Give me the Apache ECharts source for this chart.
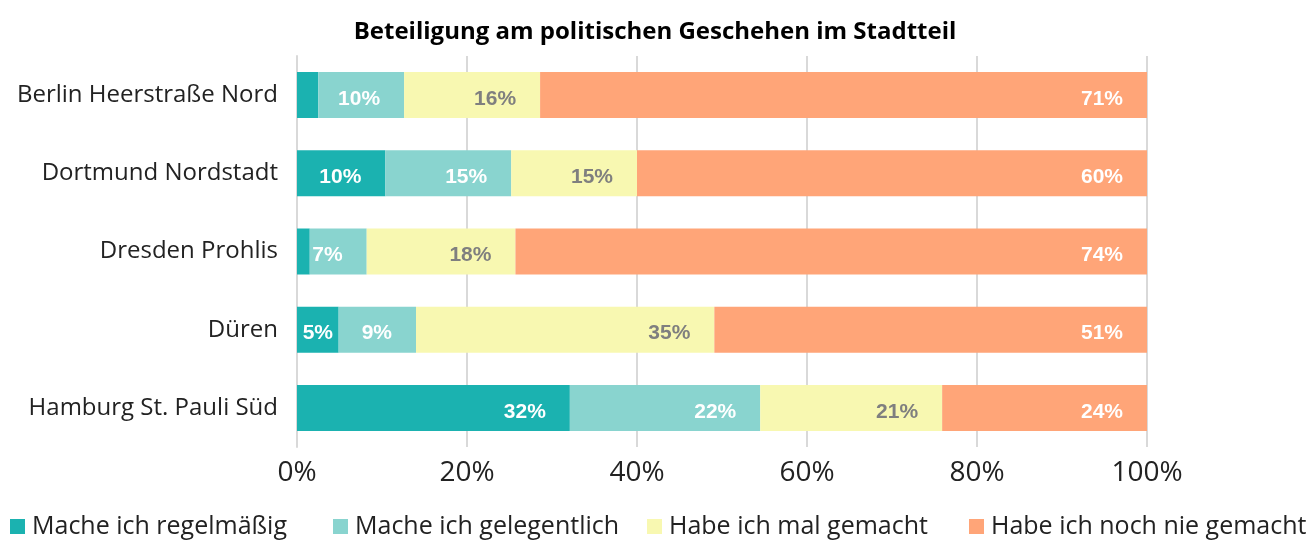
<!DOCTYPE html>
<html>
<head>
<meta charset="utf-8">
<script src="https://cdn.jsdelivr.net/npm/echarts@6/dist/echarts.min.js"></script>
<style>
    html, body { margin: 0; padding: 0; background: #fff; }
    #chart { width: 1310px; height: 540px; }
</style>
</head>
<body>
<div id="chart"></div>
<script>
    // Stadtteile (top to bottom)
    var districts = ['Berlin Heerstraße Nord', 'Dortmund Nordstadt', 'Dresden Prohlis', 'Düren', 'Hamburg St. Pauli Süd'];
    var seriesNames = ['Mache ich regelmäßig', 'Mache ich gelegentlich', 'Habe ich mal gemacht', 'Habe ich noch nie gemacht'];
    var regelmaessig = [2.5, 10.4, 1.5, 4.9, 32.1];
    var gelegentlich = [10.1, 14.8, 6.7, 9.1, 22.4];
    var malGemacht = [16.0, 14.8, 17.5, 35.1, 21.4];
    var nieGemacht = [71.4, 60.0, 74.3, 50.9, 24.1];
    var xTicks = [0, 20, 40, 60, 80, 100];

    var colors = ['#1bb2b0', '#89d4cf', '#f8f8b1', '#ffa578'];
    var labelColors = ['#ffffff', '#ffffff', '#7f7f7f', '#ffffff'];
    var values = [regelmaessig, gelegentlich, malGemacht, nieGemacht];
    var legendLeft = [10, 333, 647, 969];

    var uiFont = '"Open Sans", "Noto Sans", sans-serif';

    var chart = echarts.init(document.getElementById('chart'));

    var series = seriesNames.map(function (name, i) {
        return {
            name: name,
            type: 'bar',
            stack: 'total',
            barWidth: 46,
            itemStyle: { color: colors[i] },
            label: {
                show: true,
                position: 'insideRight',
                distance: 24,
                offset: [0, 4],
                color: labelColors[i],
                fontFamily: '"Liberation Sans", Arial, sans-serif',
                fontWeight: 'bold',
                fontSize: 21,
                formatter: function (p) {
                    return p.value < 3 ? '' : Math.round(p.value) + '%';
                }
            },
            data: values[i].slice().reverse().map(function (v) {
                // very narrow segments: label centred in the bar
                return v < 6 ? { value: v, label: { position: 'inside' } } : v;
            })
        };
    });

    var legends = seriesNames.map(function (name, i) {
        return {
            data: [name],
            left: legendLeft[i],
            top: 514,
            icon: 'rect',
            itemWidth: 15,
            itemHeight: 15,
            itemGap: 0,
            padding: 0,
            textStyle: { fontFamily: uiFont, fontSize: 25, color: '#222', padding: [0, 0, 0, 2] }
        };
    });

    chart.setOption({
        animation: false,
        title: {
            text: 'Beteiligung am politischen Geschehen im Stadtteil',
            left: 'center',
            top: 15,
            textStyle: { fontFamily: uiFont, fontWeight: 'bold', fontSize: 24, color: '#000' }
        },
        legend: legends,
        grid: { left: 297, right: 163, top: 56, bottom: 93 },
        xAxis: {
            type: 'value',
            min: xTicks[0],
            max: xTicks[xTicks.length - 1],
            interval: 20,
            axisLabel: {
                formatter: '{value}%',
                fontFamily: uiFont,
                fontSize: 28,
                color: '#222',
                margin: 12
            },
            axisLine: { show: false },
            axisTick: { show: false },
            splitLine: { lineStyle: { color: '#d9d9d9', width: 2 } }
        },
        yAxis: {
            type: 'category',
            data: districts.slice().reverse(),
            axisLabel: {
                fontFamily: uiFont,
                fontSize: 24,
                color: '#222',
                margin: 19,
                padding: [0, 0, 6, 0]
            },
            axisLine: { lineStyle: { color: '#d9d9d9', width: 2 } },
            axisTick: { show: false }
        },
        series: series
    });
</script>
</body>
</html>
